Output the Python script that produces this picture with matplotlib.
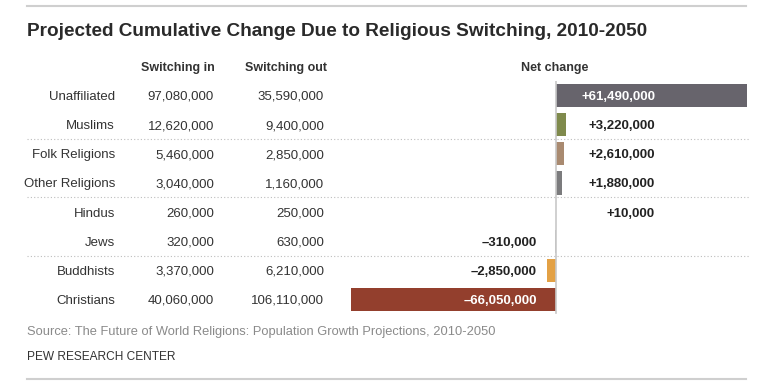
import matplotlib.pyplot as plt
from matplotlib.transforms import blended_transform_factory
from matplotlib.lines import Line2D

religions = ["Unaffiliated", "Muslims", "Folk Religions", "Other Religions",
             "Hindus", "Jews", "Buddhists", "Christians"]
switch_in = [97080000, 12620000, 5460000, 3040000, 260000, 320000, 3370000, 40060000]
switch_out = [35590000, 9400000, 2850000, 1160000, 250000, 630000, 6210000, 106110000]
net_change = [61490000, 3220000, 2610000, 1880000, 10000, -310000, -2850000, -66050000]
bar_colors = ["#67646c", "#7f8a4c", "#a98a70", "#7b7b7d", "#b8b8b8", "#b8b8b8", "#e3a145", "#933f2d"]

W, H = 768, 386
TXT = "#333333"
plt.rcParams["font.family"] = ["Liberation Sans", "DejaVu Sans"]

fig = plt.figure(figsize=(W / 100, H / 100), dpi=100)
fig.patch.set_facecolor("white")


def fx(px):
    return px / W


def fy(py):
    return 1 - py / H


# bar axes: zero at x=556, ~3.1 px per million; rows every ~29.1 px from y=95
zero_px, scale = 556, 3.1
left_px, right_px = 340, 760
row0, step = 95.5, 29.14
top_px = row0 - step / 2
bot_px = row0 + 7 * step + step / 2
ax = fig.add_axes([fx(left_px), fy(bot_px), fx(right_px - left_px), (bot_px - top_px) / H])
ax.set_xlim(-(zero_px - left_px) / scale, (right_px - zero_px) / scale)
ax.set_ylim(len(religions) - 0.5, -0.5)
ax.axis("off")

ypos = list(range(len(religions)))
vals_m = [v / 1e6 for v in net_change]
ax.barh(ypos, vals_m, height=0.8, color=bar_colors, edgecolor="none")
ax.plot([0, 0], [-0.55, 7.45], color="#c8c8c8", lw=1.2)

tr = blended_transform_factory(fig.transFigure, ax.transData)
dy = 0.05

# column headers
hy = fy(68)
fig.text(fx(215), hy, "Switching in", ha="right", va="center", fontsize=9, fontweight="bold", color=TXT)
fig.text(fx(327), hy, "Switching out", ha="right", va="center", fontsize=9, fontweight="bold", color=TXT)
fig.text(fx(555), hy, "Net change", ha="center", va="center", fontsize=9, fontweight="bold", color=TXT)

for i, name in enumerate(religions):
    y = i + dy
    ax.text(fx(115), y, name, transform=tr, ha="right", va="center", fontsize=9.5, color=TXT)
    ax.text(fx(214), y, f"{switch_in[i]:,}", transform=tr, ha="right", va="center", fontsize=9.5, color=TXT)
    ax.text(fx(324), y, f"{switch_out[i]:,}", transform=tr, ha="right", va="center", fontsize=9.5, color=TXT)
    v = net_change[i]
    if v >= 0:
        lab = f"+{v:,}"
        col = "white" if i == 0 else "#222222"
        ax.text(fx(655), y, lab, transform=tr, ha="right", va="center", fontsize=9.5,
                fontweight="bold", color=col)
    else:
        lab = f"\u2013{abs(v):,}"
        col = "white" if i == len(religions) - 1 else "#222222"
        ax.text(fx(537), y, lab, transform=tr, ha="right", va="center", fontsize=9.5,
                fontweight="bold", color=col)

# dotted separators between groups
for yb in [1.5, 3.5, 5.5]:
    ax.add_line(Line2D([fx(27), fx(750)], [yb, yb], transform=tr, color="#bdbdbd",
                       lw=0.8, linestyle=(0, (1, 2)), clip_on=False))

# title, rules, footer
fig.add_artist(Line2D([fx(27), fx(746)], [fy(6), fy(6)], color="#cfcfcf", lw=1.5))
fig.add_artist(Line2D([fx(27), fx(746)], [fy(379), fy(379)], color="#cfcfcf", lw=1.5))
fig.text(fx(27), fy(31), "Projected Cumulative Change Due to Religious Switching, 2010-2050",
         ha="left", va="center", fontsize=13.7, fontweight="bold", color="#2a2a2a")
fig.text(fx(27), fy(332), "Source: The Future of World Religions: Population Growth Projections, 2010-2050",
         ha="left", va="center", fontsize=9.3, color="#8a8a8a")
fig.text(fx(27), fy(357), "PEW RESEARCH CENTER", ha="left", va="center", fontsize=8.6, color="#333333")

fig.savefig("out.png", dpi=100, facecolor="white")
